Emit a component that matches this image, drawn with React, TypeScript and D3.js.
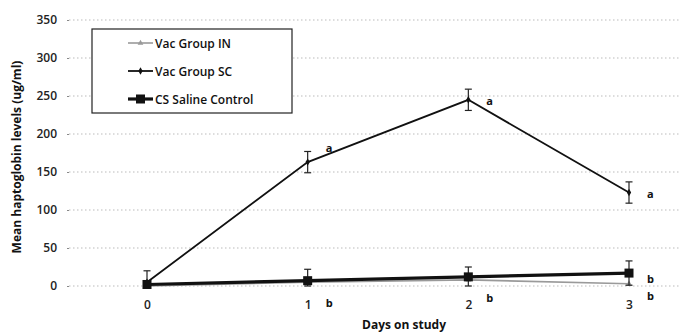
import React, { useRef, useEffect } from 'react';
import * as d3 from 'd3';

const days = [0, 1, 2, 3];
const yTicks = [0, 50, 100, 150, 200, 250, 300, 350];

const vacIN = [0, 5, 8, 3];
const vacINErr = [0, 0, 0, 0];
const vacSC = [5, 163, 245, 123];
const vacSCErr = [15, 14, 14, 14];
const salineCS = [2, 7, 12, 17];
const salineCSErr = [4, 15, 13, 16];

// significance letters: day, label, value at baseline
const letters = [
  { day: 1, label: 'a', v: 176 },
  { day: 2, label: 'a', v: 238 },
  { day: 3, label: 'a', v: 116 },
  { day: 1, label: 'b', v: -28 },
  { day: 2, label: 'b', v: -21 },
  { day: 3, label: 'b', v: 4 },
  { day: 3, label: 'b', v: -18 },
];

const series = [
  { name: 'Vac Group IN', values: vacIN, err: vacINErr, color: '#9a9a9a', width: 1.6, marker: 'tri' },
  { name: 'Vac Group SC', values: vacSC, err: vacSCErr, color: '#111', width: 1.8, marker: 'diamond' },
  { name: 'CS Saline Control', values: salineCS, err: salineCSErr, color: '#111', width: 3.2, marker: 'square' },
];

const App = () => {
  const svgRef = useRef<SVGSVGElement>(null);

  useEffect(() => {
    const svg = d3.select(svgRef.current);
    svg.selectAll('*').remove();
    const font = "'Open Sans', sans-serif";

    const x = d3.scaleLinear().domain([0, 3]).range([147, 629]);
    const y = d3.scaleLinear().domain([0, 350]).range([286, 20]);

    // gridlines
    svg.append('g')
      .selectAll('line')
      .data(yTicks)
      .join('line')
      .attr('x1', 69)
      .attr('x2', 679)
      .attr('y1', d => y(d))
      .attr('y2', d => y(d))
      .attr('stroke', '#bbb')
      .attr('stroke-width', 1)
      .attr('stroke-dasharray', '1.5,2.5');

    // y axis
    const yAxis = svg.append('g')
      .attr('transform', 'translate(69,0)')
      .call(d3.axisLeft(y).tickValues(yTicks).tickSize(2).tickPadding(10));
    yAxis.select('.domain').remove();
    yAxis.selectAll('.tick line').attr('stroke', '#888');
    yAxis.selectAll('text')
      .attr('font-family', font)
      .attr('font-size', 12)
      .attr('font-weight', 600)
      .attr('fill', '#222');

    // x axis
    const xAxis = svg.append('g')
      .attr('transform', 'translate(0,286)')
      .call(d3.axisBottom(x).tickValues(days).tickFormat(d3.format('d')).tickSize(0).tickPadding(14));
    xAxis.select('.domain').remove();
    xAxis.selectAll('text')
      .attr('font-family', font)
      .attr('font-size', 12)
      .attr('font-weight', 600)
      .attr('fill', '#222');

    // axis titles
    svg.append('text')
      .attr('x', 404)
      .attr('y', 329)
      .attr('text-anchor', 'middle')
      .attr('font-family', font)
      .attr('font-size', 12)
      .attr('font-weight', 700)
      .attr('fill', '#111')
      .text('Days on study');

    svg.append('text')
      .attr('transform', 'translate(21,157) rotate(-90)')
      .attr('text-anchor', 'middle')
      .attr('font-family', font)
      .attr('font-size', 12)
      .attr('font-weight', 700)
      .attr('fill', '#111')
      .text('Mean haptoglobin levels (ug/ml)');

    const line = d3.line<number>()
      .x((d, i) => x(days[i]))
      .y(d => y(d));

    const drawMarker = (g: any, type: string, cx: number, cy: number, color: string) => {
      if (type === 'square') {
        g.append('rect').attr('x', cx - 4.5).attr('y', cy - 4.5).attr('width', 9).attr('height', 9).attr('fill', color);
      } else if (type === 'diamond') {
        g.append('path').attr('d', d3.symbol(d3.symbolDiamond, 16)()).attr('transform', `translate(${cx},${cy})`).attr('fill', color);
      } else {
        g.append('path').attr('d', d3.symbol(d3.symbolTriangle, 14)()).attr('transform', `translate(${cx},${cy})`).attr('fill', color);
      }
    };

    series.forEach(s => {
      const g = svg.append('g');
      // error bars
      s.values.forEach((v, i) => {
        if (!s.err[i]) return;
        const cx = x(days[i]);
        g.append('line').attr('x1', cx).attr('x2', cx).attr('y1', y(v + s.err[i])).attr('y2', y(Math.max(0, v - s.err[i])))
          .attr('stroke', '#222').attr('stroke-width', 1.2);
        [v + s.err[i], Math.max(0, v - s.err[i])].forEach(e => {
          g.append('line').attr('x1', cx - 3.5).attr('x2', cx + 3.5).attr('y1', y(e)).attr('y2', y(e))
            .attr('stroke', '#222').attr('stroke-width', 1.2);
        });
      });
      g.append('path')
        .attr('d', line(s.values))
        .attr('fill', 'none')
        .attr('stroke', s.color)
        .attr('stroke-width', s.width);
      s.values.forEach((v, i) => drawMarker(g, s.marker, x(days[i]), y(v), s.color));
    });

    // letters
    svg.append('g')
      .selectAll('text')
      .data(letters)
      .join('text')
      .attr('x', d => x(d.day) + 18)
      .attr('y', d => y(d.v))
      .attr('font-family', font)
      .attr('font-size', 11)
      .attr('font-weight', 700)
      .attr('fill', '#111')
      .text(d => d.label);

    // legend
    const lg = svg.append('g');
    lg.append('rect')
      .attr('x', 92).attr('y', 29).attr('width', 200).attr('height', 84)
      .attr('fill', '#fff').attr('stroke', '#222').attr('stroke-width', 1.2);
    series.forEach((s, i) => {
      const ly = 43 + i * 28;
      lg.append('line').attr('x1', 128).attr('x2', 153).attr('y1', ly).attr('y2', ly)
        .attr('stroke', s.color).attr('stroke-width', s.width);
      drawMarker(lg, s.marker, 140.5, ly, s.color);
      lg.append('text')
        .attr('x', 155)
        .attr('y', ly + 4.5)
        .attr('font-family', font)
        .attr('font-size', 12)
        .attr('font-weight', 600)
        .attr('fill', '#111')
        .text(s.name);
    });
  }, []);

  return (
    <svg
      ref={svgRef}
      width={679}
      height={333}
      style={{ position: 'absolute', left: 0, top: 0, background: '#fff' }}
    />
  );
};

export default App;
